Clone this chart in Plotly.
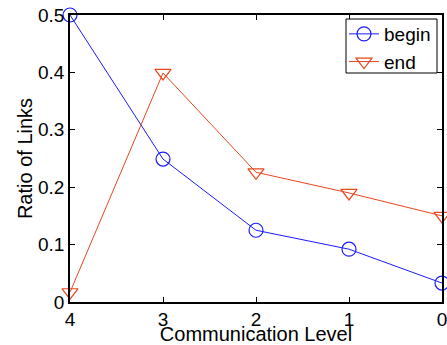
import plotly.graph_objects as go

levels = [4, 3, 2, 1, 0]
begin_vals = [0.5, 0.249, 0.125, 0.092, 0.033]
end_vals = [0.017, 0.399, 0.226, 0.190, 0.150]
x_ticks = [4, 3, 2, 1, 0]
y_ticks = [0, 0.1, 0.2, 0.3, 0.4, 0.5]
y_tick_text = ["0", "0.1", "0.2", "0.3", "0.4", "0.5"]

BLUE = "#1a1aff"
RED = "#e8461e"
FONT = "Liberation Sans, Arial, sans-serif"
FS = 19
TFS = 20

# plot area in pixels: x 70..442, y 15..302
PL, PR, PT, PB = 70, 442, 15, 302
def px(x):
    return (x - PL) / (PR - PL)
def py(y):
    return 1 - (y - PT) / (PB - PT)

fig = go.Figure()
fig.add_trace(go.Scatter(
    x=levels, y=begin_vals, name="begin", mode="lines+markers",
    line=dict(color=BLUE, width=1),
    marker=dict(symbol="circle-open", size=14, color=BLUE, line=dict(width=1.2)),
    cliponaxis=False,
))
fig.add_trace(go.Scatter(
    x=levels, y=end_vals, name="end", mode="lines+markers",
    line=dict(color=RED, width=1),
    marker=dict(symbol="triangle-down-open", size=14, color=RED, line=dict(width=1.2)),
    cliponaxis=False,
))

axis_common = dict(
    showline=True, linecolor="black", linewidth=1.5, mirror="allticks",
    ticks="inside", ticklen=5, tickcolor="black", showgrid=False, zeroline=False,
    tickfont=dict(family=FONT, size=FS, color="black"), automargin=False,
    ticklabeloverflow="allow",
)

# legend box drawn as a shape
fig.add_shape(
    type="rect", xref="paper", yref="paper",
    x0=px(346), x1=px(437), y0=py(73), y1=py(19),
    line=dict(color="black", width=1), fillcolor="white", layer="above",
)

fig.update_layout(
    template="none",
    width=447, height=345,
    margin=dict(l=PL, r=447 - PR, t=PT, b=345 - PB),
    paper_bgcolor="white", plot_bgcolor="white",
    font=dict(family=FONT, size=FS, color="black"),
    xaxis=dict(
        range=[4, 0], tickvals=x_ticks, ticktext=[str(v) for v in x_ticks],
        title=dict(text="Communication Level", font=dict(size=TFS), standoff=0),
        ticklabelstandoff=-1,
        **axis_common,
    ),
    yaxis=dict(
        range=[0, 0.5], tickvals=y_ticks, ticktext=y_tick_text,
        title=dict(text="Ratio of Links", font=dict(size=TFS), standoff=0),
        **axis_common,
    ),
    legend=dict(
        x=px(344), y=py(15), xanchor="left", yanchor="top",
        bgcolor="rgba(0,0,0,0)", bordercolor="rgba(0,0,0,0)", borderwidth=0,
        font=dict(family=FONT, size=FS), tracegroupgap=0,
        itemwidth=30,
    ),
)

fig.write_html(
    "out.html",
    config={"displayModeBar": False},
    post_script="document.body.style.margin='0';document.body.style.overflow='hidden';",
)
